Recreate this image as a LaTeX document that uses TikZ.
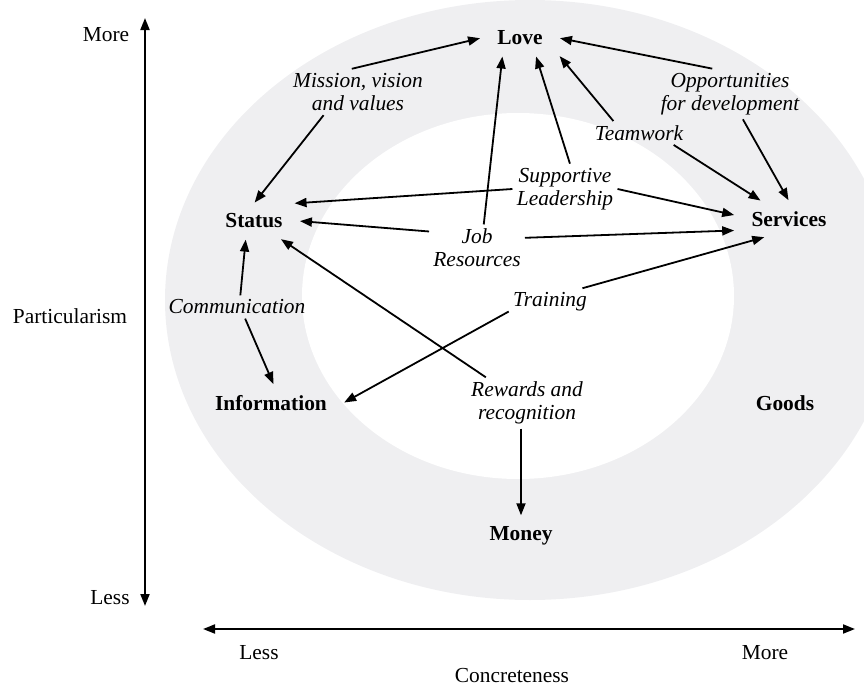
\documentclass[tikz,border=0pt]{standalone}
\usepackage{fontspec}
\setmainfont{Liberation Serif}
\usepackage{xcolor}
\usetikzlibrary{arrows.meta, positioning}
\definecolor{ringgray}{RGB}{239,239,241}

\begin{document}
\begin{tikzpicture}[
    x=0.5pt, y=-0.5pt,
    every node/.style={font=\fontsize{10.7}{11.6}\selectfont, inner sep=2pt},
    res/.style={font=\fontsize{10.7}{11.6}\selectfont\bfseries, inner xsep=8pt, inner ysep=5pt},
    factor/.style={font=\fontsize{10.7}{11.6}\selectfont\itshape, align=center},
    arrow/.style={line width=0.9pt, -{Triangle[length=6pt,width=4.5pt]}, shorten >=0.5pt},
    axis/.style={line width=0.9pt, {Triangle[length=6pt,width=4.5pt]}-{Triangle[length=6pt,width=4.5pt]}}
]
\useasboundingbox (0,0) rectangle (864,686);

\begin{scope}
\clip (0,0) rectangle (864,686);
\fill [ringgray] (530,300) ellipse [x radius=365, y radius=300];
\fill [white] (518,296) ellipse [x radius=216, y radius=183];
\end{scope}

\node (love) [res] at (520,38) {Love};
\node (status) [res] at (254,221) {Status};
\node (services) [res] at (789,219) {Services};
\node (info) [res] at (271,403) {Information};
\node (goods) [res] at (785,403) {Goods};
\node (money) [res] at (521,536) {Money};

\node (mission) [factor] at (358,92) {Mission, vision\\and values};
\node (opport) [factor] at (730,94) {Opportunities\\for development};
\node (teamwork) [factor] at (639,133) {Teamwork};
\node (support) [factor] at (565,189) {Supportive\\Leadership};
\node (jobres) [factor] at (477,248) {Job\\Resources};
\node (training) [factor] at (550,302) {Training};
\node (comm) [factor] at (237,307) {Communication};
\node (rewards) [factor] at (527,403) {Rewards and\\recognition};

% axes
\coordinate (ptop) at (145,18);
\coordinate (pbot) at (145,606);
\coordinate (cleft) at (203,629);
\coordinate (cright) at (855,629);
\draw [axis] (ptop) -- (pbot);
\draw [axis] (cleft) -- (cright);
\node (pmore) at (106,35) {More};
\node (pless) at (110,598) {Less};
\node (partic) at (70,316) {Particularism};
\node (cless) at (259,653) {Less};
\node (cmore) at (765,653) {More};
\node (concrete) at (512,676) {Concreteness};

\draw [arrow] (mission.105) -- (love.west);
\draw [arrow] (mission.214) -- (status.north);
\draw [arrow] (support.west) -- (status.24);
\draw [arrow] (jobres.161) -- (status.east);
\draw [arrow] (rewards.148) -- (status.326);
\draw [arrow] (comm.74) -- (status.245);
\draw [arrow] (comm.305) -- (info.81);
\draw [arrow] (training.193) -- (info.east);
\draw [arrow] (jobres.74) -- (love.225);
\draw [arrow] (support.79) -- (love.312);
\draw [arrow] (teamwork.155) -- (love.336);
\draw [arrow] (opport.125) -- (love.east);
\draw [arrow] (opport.297) -- (services.north);
\draw [arrow] (teamwork.341) -- (services.147);
\draw [arrow] (support.east) -- (services.176);
\draw [arrow] (jobres.12) -- (services.192);
\draw [arrow] (training.23) -- (services.217);
\draw [arrow] (money.north |- rewards.south) -- (money.north);

\end{tikzpicture}
\end{document}
